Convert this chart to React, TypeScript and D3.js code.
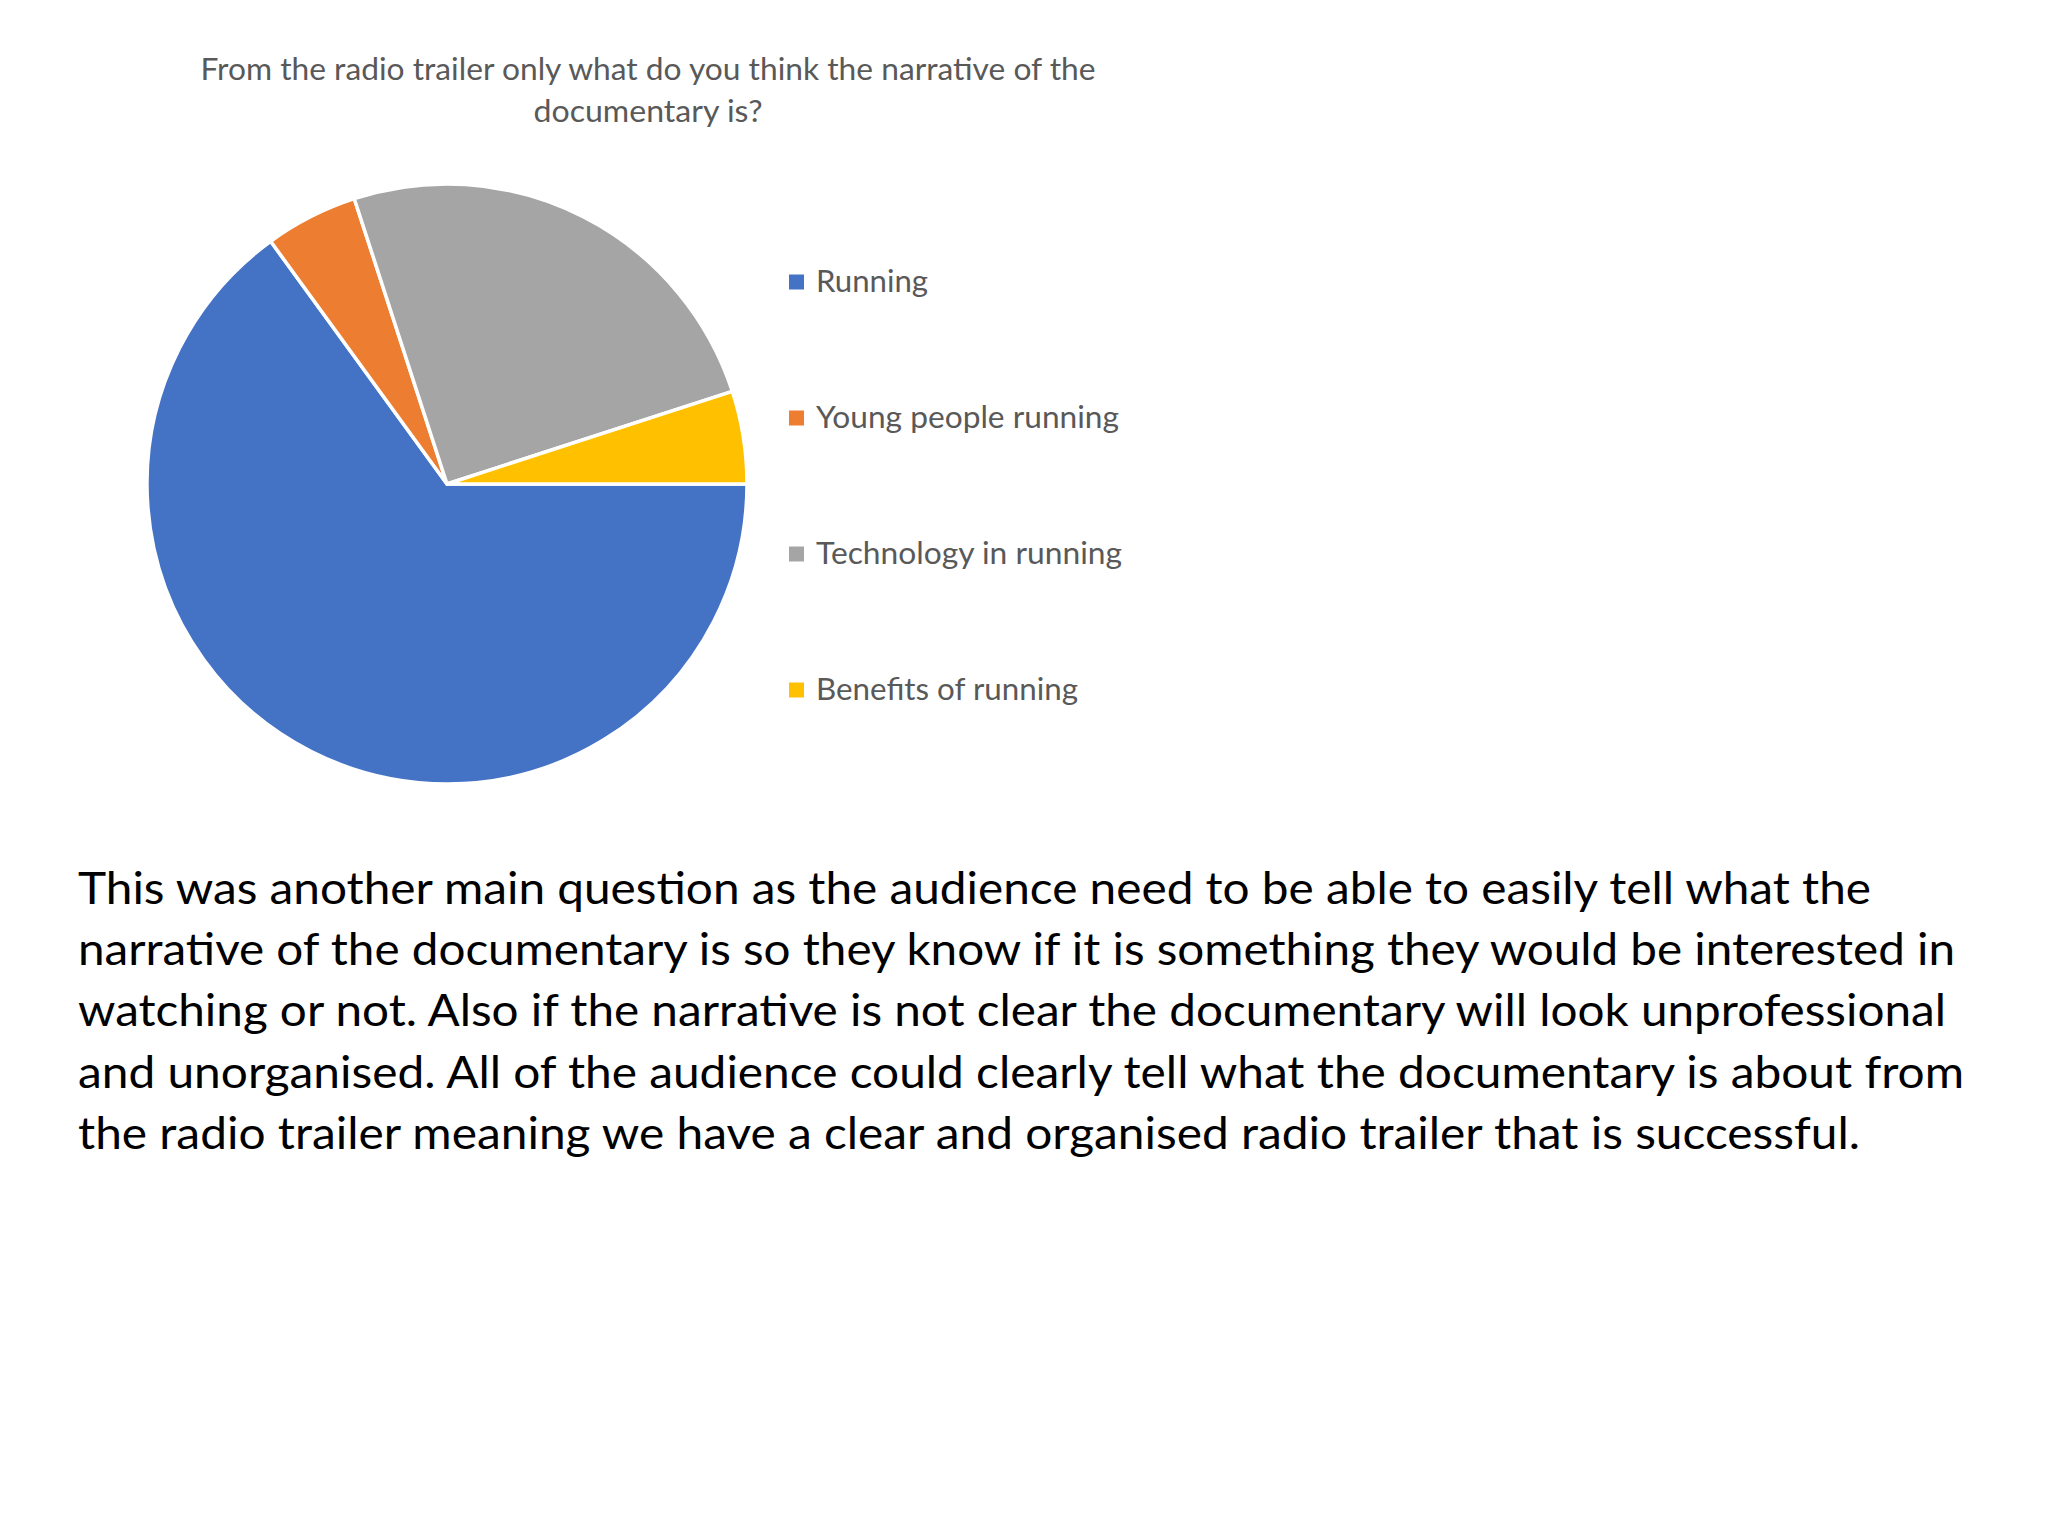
import React from "react";
import * as d3 from "d3";

const categories = ["Running", "Young people running", "Technology in running", "Benefits of running"];
const values = [13, 1, 5, 1];
const colors = ["#4472C4", "#ED7D31", "#A5A5A5", "#FFC000"];
const titleLines = ["From the radio trailer only what do you think the narrative of the", "documentary is?"];
const paragraphLines = [
  "This was another main question as the audience need to be able to easily tell what the",
  "narrative of the documentary is so they know if it is something they would be interested in",
  "watching or not. Also if the narrative is not clear the documentary will look unprofessional",
  "and unorganised. All of the audience could clearly tell what the documentary is about from",
  "the radio trailer meaning we have a clear and organised radio trailer that is successful.",
];

const legendWidths = [112, 303, 306, 262];
const paraWidths = [1793, 1877, 1868, 1886, 1782];
const titleWidths = [895, 229];

export default function App() {
  const W = 2048, H = 1536;
  const cx = 447, cy = 484, r = 300;
  const pie = d3.pie<number>().sort(null).startAngle(Math.PI / 2).endAngle(Math.PI / 2 + 2 * Math.PI);
  const arcs = pie(values);
  const arc = d3.arc<d3.PieArcDatum<number>>().innerRadius(0).outerRadius(r);
  const legendY = d3.scalePoint<string>().domain(categories).range([282, 690]);
  const paraY = d3.scaleLinear().domain([0, 4]).range([903.5, 1149]);
  const font = "Lato, 'Open Sans', sans-serif";
  return (
    <svg width={W} height={H} style={{ position: "absolute", left: 0, top: 0, background: "#fff" }}>
      <rect width={W} height={H} fill="#ffffff" />
      {titleLines.map((t, i) => (
        <text key={i} x={648} y={80 + i * 42} textAnchor="middle" fontFamily={font} fontSize={30}
          fill="#595959" textLength={titleWidths[i]} lengthAdjust="spacingAndGlyphs">{t}</text>
      ))}
      <g transform={`translate(${cx},${cy})`}>
        {arcs.map((a, i) => (
          <path key={i} d={arc(a) || ""} fill={colors[i]} stroke="#fff" strokeWidth={3.5} strokeLinejoin="round" />
        ))}
      </g>
      {categories.map((c, i) => {
        const y = legendY(c)!;
        return (
          <g key={c}>
            <rect x={789} y={y - 7.5} width={15} height={15} fill={colors[i]} />
            <text x={816} y={y + 10} fontFamily={font} fontSize={30} fill="#595959"
              textLength={legendWidths[i]} lengthAdjust="spacingAndGlyphs">{c}</text>
          </g>
        );
      })}
      {paragraphLines.map((t, i) => (
        <text key={i} x={78} y={paraY(i)} fontFamily={font} fontSize={44} fill="#000"
          textLength={paraWidths[i]} lengthAdjust="spacingAndGlyphs">{t}</text>
      ))}
    </svg>
  );
}
